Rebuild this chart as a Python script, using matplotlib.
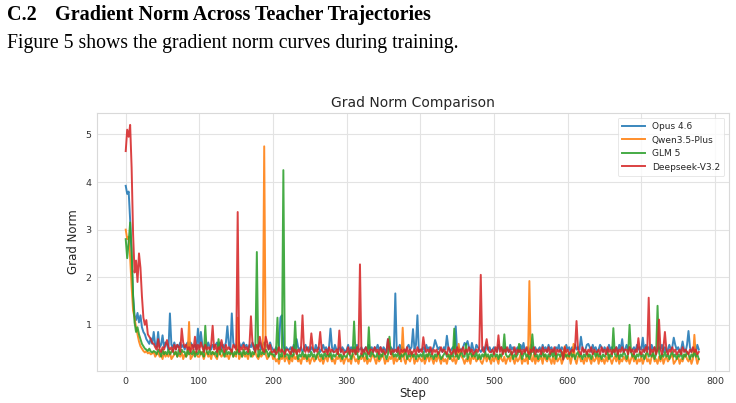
import numpy as np
import matplotlib
matplotlib.use("Agg")
import matplotlib.pyplot as plt

# series: first 20 logged points (steps 0..38, every 2 steps) read directly,
# rest as digit strings (value = 0.18 + 0.05 * digit), then spikes by step
labels = ["Opus 4.6", "Qwen3.5-Plus", "GLM 5", "Deepseek-V3.2"]
colors = ["#1f77b4", "#ff7f0e", "#2ca02c", "#d62728"]

opus_early = [3.92, 3.75, 3.8, 3.2, 2.4, 1.6, 1.2, 1.1, 1.25, 1.05,
              1.2, 0.95, 0.85, 0.8, 0.7, 0.65, 0.6, 0.72, 0.6, 0.85]
opus_base = ("8797867986 7879687978 6897987869 7986879768 "
             "7897968798 8679786978 9786879687 7968978697 "
             "6576756857 6675865767 5686757658 6756867576 7586675765 "
             "6857675866 7567586757 6867576586 7657568676 5786756875 "
             "6675867567 5867657687 5676857667 5867576587 6567586756 "
             "7658675676 5867567586 7567586675 "
             "6758675867 5676857658 6757586765 7568675867 5687576586 "
             "7567586756 8675675867 6758675867 5676857568 6758675676 "
             "5867567586")
opus_spikes = {44: 0.85, 50: 0.78, 60: 1.24, 98: 0.92, 102: 0.85, 138: 0.97,
               144: 1.24, 210: 1.15, 212: 1.2, 232: 0.7, 278: 0.92, 356: 0.7,
               366: 1.66, 390: 0.91, 396: 1.2, 420: 0.68, 436: 0.77, 448: 0.97,
               460: 0.62, 464: 0.66, 470: 0.62, 540: 0.62, 618: 0.75, 628: 0.6,
               674: 0.7, 702: 0.73, 744: 0.73, 756: 0.65, 764: 0.87}

qwen_early = [3.0, 2.8, 2.85, 2.4, 1.8, 1.3, 1.15, 0.95, 0.8, 0.65,
              0.55, 0.5, 0.45, 0.42, 0.45, 0.4, 0.42, 0.38, 0.4, 0.43]
qwen_base = ("3453425343 5234534352 4345234543 3542453425 "
             "4325434534 2453435243 5342543453 2434542345 "
             "2312032413 2031423120 3241302312 4213023143 1203241302 "
             "3120431203 2413021342 0312430213 2403123142 0321340213 "
             "2130241320 3142031203 4213021432 0213042312 3102413203 "
             "1320421302 3142031240 2130321403 1230421320 3041230213 "
             "2403120341 2031420312 4031203142 0231402132 1302413021 "
             "3024120341 2031402312 3401230213 "
             "4213021302")
qwen_spikes = {86: 1.06, 152: 1.15, 188: 4.75, 376: 0.94, 452: 0.6,
               548: 1.92, 596: 0.55, 608: 0.6, 772: 0.79}

glm_early = [2.8, 2.4, 2.75, 3.15, 2.6, 1.6, 1.05, 0.85, 0.95, 0.8,
             0.7, 0.6, 0.55, 0.5, 0.48, 0.45, 0.5, 0.44, 0.42, 0.45]
glm_base = ("5465364546 4564536465 5364546354 6453654645 "
            "4536465364 5463546453 6454635465 3645465354 "
            "4354243534 4253435243 5342435342 4534253435 2434534243 "
            "3542434523 4354243543 3524354243 4534352434 5243534243 "
            "4352435342 4354234534 2435342453 3424534352 4243534243 "
            "5342435243 3452434352 4534243534 2435342435 3524435243 "
            "4353424534 2435342453 5342434524 3543524354 "
            "2435342435 3424534352 4352435342 4534243524 3542435342")
glm_spikes = {108: 0.98, 126: 0.7, 178: 2.53, 206: 1.15, 214: 4.25,
              230: 1.07, 310: 1.07, 330: 0.95, 358: 0.75, 446: 0.92,
              462: 0.6, 514: 0.8, 534: 0.6, 552: 0.8, 662: 0.93,
              684: 1.0, 722: 1.4}

ds_early = [4.65, 5.1, 4.95, 5.2, 4.3, 2.9, 2.1, 2.35, 1.9, 2.5,
            2.2, 1.6, 1.15, 1.0, 1.1, 0.8, 0.75, 0.7, 0.62, 0.6]
ds_base = ("7686576857 6758687569 7867586758 6975867687 "
           "6857697586 7658769576 8675869758 6786579685 "
           "5645756546 6547564657 4657564756 5746556475 6556475645 "
           "5746564756 4657546657 5647564576 4656574656 5746456475 "
           "6547565746 5645756547 6456475657 4657564565 7465746556 "
           "4756574657 5645746564 6575465746 5647565746 "
           "5746565475 6456574654 7564657465 5647564756 4657465756 "
           "6475646575 4657564657 4656475646 5756456475 6546575645")
ds_spikes = {44: 0.7, 56: 0.68, 76: 0.92, 94: 0.75, 118: 0.98, 130: 0.68,
             152: 3.37, 170: 1.18, 182: 0.75, 190: 0.75, 240: 1.2, 252: 0.82,
             264: 0.85, 290: 0.88, 318: 2.27, 356: 0.7, 404: 0.74, 482: 2.05,
             490: 0.7, 506: 0.78, 594: 0.27, 612: 1.08, 696: 0.72, 710: 1.57,
             724: 1.11, 732: 0.85}


def build(early, base, spikes):
    vals = early + [0.18 + 0.05 * int(c) for c in base.replace(" ", "")]
    vals = np.array(vals)
    for s, v in spikes.items():
        vals[s // 2] = v
    return np.arange(len(vals)) * 2, vals


series = [build(opus_early, opus_base, opus_spikes),
          build(qwen_early, qwen_base, qwen_spikes),
          build(glm_early, glm_base, glm_spikes),
          build(ds_early, ds_base, ds_spikes)]

fig = plt.figure(figsize=(7.36, 4.03), dpi=100)

# page text above the figure
fig.text(7 / 736, 1 - 20 / 403, "C.2", family="Liberation Serif",
         weight="bold", fontsize=14.5, va="baseline")
fig.text(55 / 736, 1 - 20 / 403, "Gradient Norm Across Teacher Trajectories",
         family="Liberation Serif", weight="bold", fontsize=14.5, va="baseline")
fig.text(7 / 736, 1 - 48 / 403,
         "Figure 5 shows the gradient norm curves during training.",
         family="Liberation Serif", fontsize=14.2, va="baseline")

ax = fig.add_axes([97 / 736, 32 / 403, 632 / 736, 258 / 403])
for (x, y), lab, c in zip(series, labels, colors):
    ax.plot(x, y, color=c, lw=1.4, alpha=0.88, label=lab)

ax.set_xlim(-39, 819)
ax.set_ylim(0.03, 5.45)
ax.set_xticks(range(0, 801, 100))
ax.set_yticks([1, 2, 3, 4, 5])
ax.grid(True, color="#e3e3e3", lw=0.8)
ax.set_axisbelow(True)
for sp in ax.spines.values():
    sp.set_color("#d9d9d9")
    sp.set_linewidth(0.8)
ax.tick_params(length=0, labelsize=6.8, labelcolor="#333333", pad=4)
ax.set_title("Grad Norm Comparison", fontsize=10, color="#262626", pad=4)
ax.set_xlabel("Step", fontsize=8.5, color="#262626", labelpad=1)
ax.set_ylabel("Grad Norm", fontsize=8.5, color="#262626", labelpad=4)
leg = ax.legend(loc="upper right", fontsize=6.5, frameon=True, fancybox=True,
                handlelength=2.5, borderpad=0.5, labelspacing=0.5)
leg.get_frame().set_edgecolor("#dddddd")
leg.get_frame().set_linewidth(0.6)
for t in leg.get_texts():
    t.set_color("#262626")

fig.savefig("out.png", dpi=100)
